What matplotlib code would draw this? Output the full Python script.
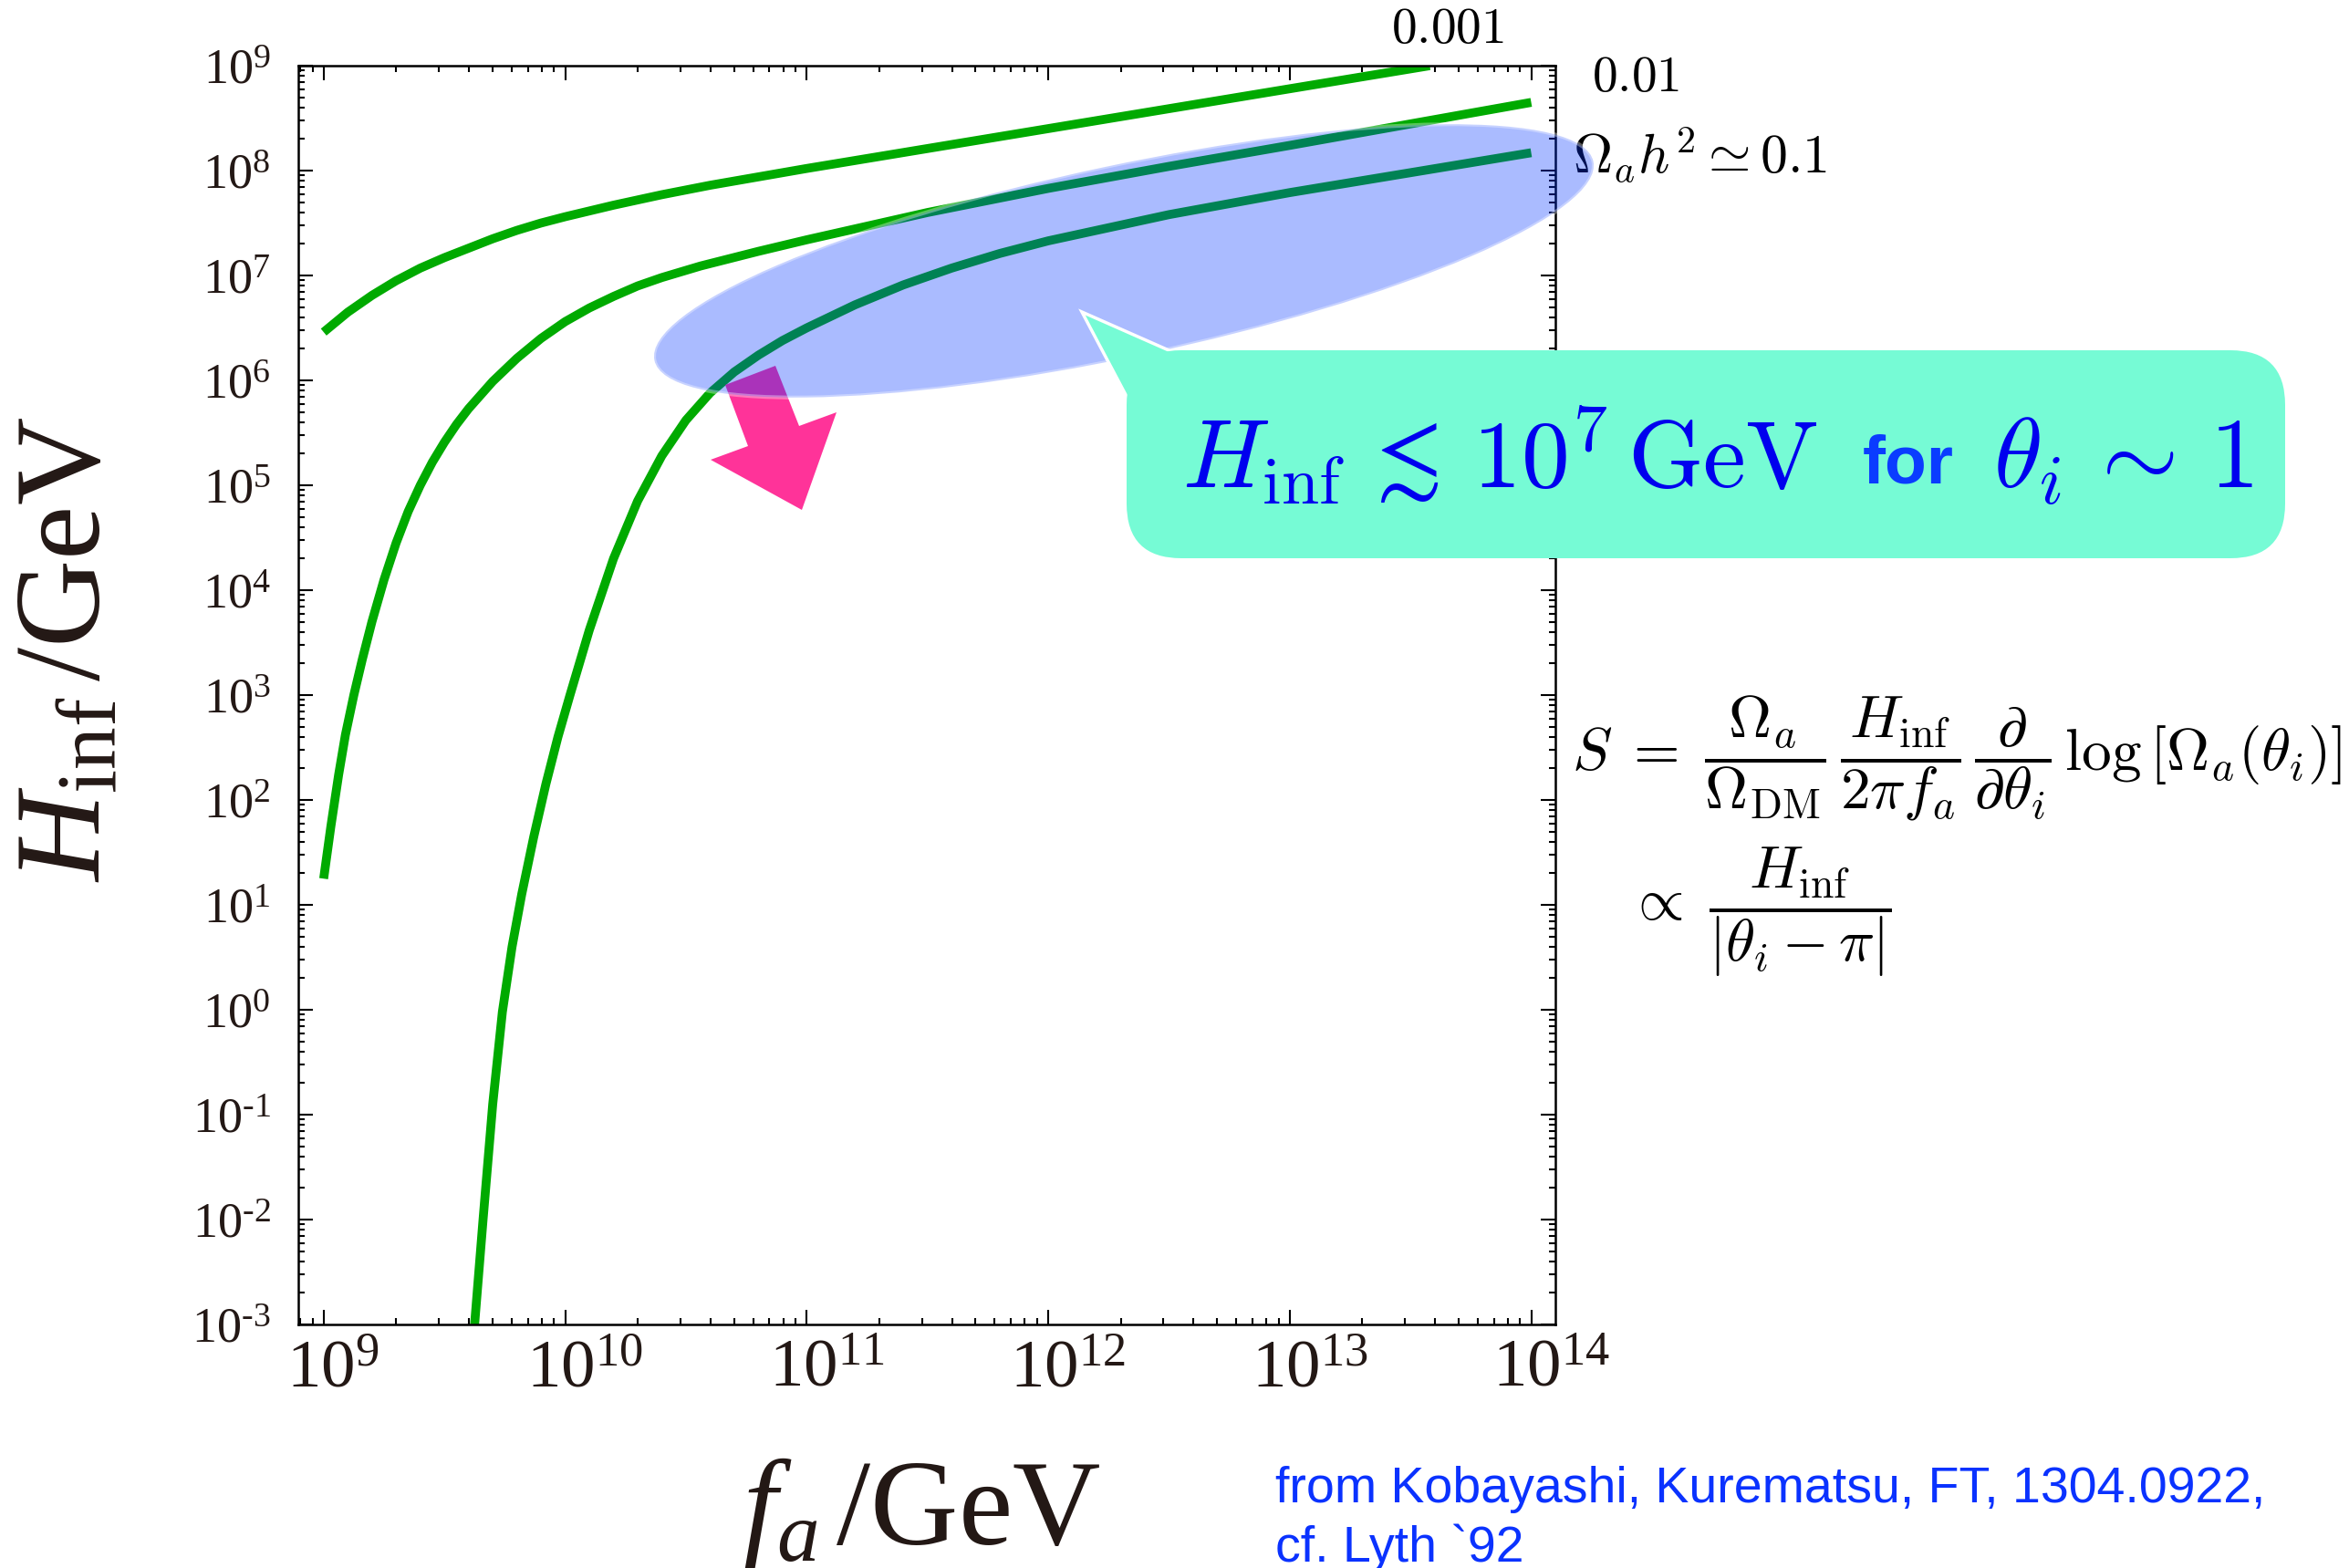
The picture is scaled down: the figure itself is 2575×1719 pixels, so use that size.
import numpy as np
import matplotlib
matplotlib.use("Agg")
import matplotlib.pyplot as plt
from matplotlib.patches import Ellipse, Polygon, FancyBboxPatch
from matplotlib.ticker import LogLocator, FuncFormatter, NullFormatter
from matplotlib.transforms import ScaledTranslation

plt.rcParams['font.family'] = 'Liberation Serif'
plt.rcParams['mathtext.fontset'] = 'custom'
plt.rcParams['mathtext.rm'] = 'Liberation Serif'
plt.rcParams['mathtext.it'] = 'Liberation Serif:italic'
plt.rcParams['mathtext.bf'] = 'Liberation Serif:bold'

# isocurvature bounds: log10(f_a/GeV) vs log10(H_inf/GeV)
logf_0001 = [9.0, 9.1, 9.2, 9.3, 9.4, 9.5, 9.6, 9.7, 9.8, 9.9, 10.0, 10.2, 10.4,
             10.6, 10.8, 11.0, 11.5, 12.0, 12.5, 13.0, 13.58]
logH_0001 = [6.46, 6.65, 6.81, 6.95, 7.07, 7.17, 7.26, 7.35, 7.43, 7.50, 7.56, 7.67,
             7.77, 7.86, 7.94, 8.02, 8.21, 8.40, 8.59, 8.78, 9.0]

logf_001 = [9.0, 9.03, 9.062, 9.09, 9.125, 9.16, 9.2, 9.25, 9.3, 9.35, 9.4, 9.45,
            9.5, 9.55, 9.6, 9.7, 9.8, 9.9, 10.0, 10.1, 10.2, 10.3, 10.4, 10.56,
            10.8, 11.0, 11.5, 12.0, 12.5, 13.0, 13.5, 14.0]
logH_001 = [1.25, 1.75, 2.24, 2.62, 3.0, 3.34, 3.70, 4.10, 4.45, 4.75, 5.0, 5.22,
            5.41, 5.58, 5.73, 5.99, 6.21, 6.40, 6.56, 6.69, 6.80, 6.90, 6.98, 7.09,
            7.23, 7.34, 7.60, 7.83, 8.04, 8.24, 8.445, 8.65]

logf_01 = [9.625, 9.66, 9.70, 9.74, 9.78, 9.82, 9.87, 9.92, 9.97, 10.02, 10.1,
           10.2, 10.3, 10.4, 10.5, 10.6, 10.7, 10.8, 10.9, 11.0, 11.2, 11.4, 11.6,
           11.8, 12.0, 12.5, 13.0, 13.5, 14.0]
logH_01 = [-3.0, -2.0, -0.9, -0.02, 0.6, 1.1, 1.65, 2.15, 2.6, 3.0, 3.62,
           4.3, 4.85, 5.28, 5.62, 5.88, 6.08, 6.24, 6.38, 6.5, 6.72, 6.91, 7.07,
           7.21, 7.33, 7.58, 7.79, 7.98, 8.17]

curves = [(logf_0001, logH_0001), (logf_001, logH_001), (logf_01, logH_01)]

W, H = 2575, 1719
fig = plt.figure(figsize=(W / 100, H / 100), dpi=100)
ax = fig.add_axes([327 / W, 1 - 1452 / H, (1705 - 327) / W, (1452 - 72) / H])

for lf, lh in curves:
    ax.plot(10 ** np.array(lf), 10 ** np.array(lh), color='#00aa00', lw=7,
            solid_capstyle='butt', solid_joinstyle='round')

ax.set_xscale('log')
ax.set_yscale('log')
ax.set_xlim(10 ** 8.895, 10 ** 14.1)
ax.set_ylim(1e-3, 1e9)


def pow_label(v, pos):
    e = int(round(np.log10(v)))
    if e < 0:
        return r'$10^{\text{-}%d}$' % -e
    return r'$10^{%d}$' % e


fmt = FuncFormatter(pow_label)
for axis in (ax.xaxis, ax.yaxis):
    axis.set_major_locator(LogLocator(base=10, numticks=30))
    axis.set_minor_locator(LogLocator(base=10, subs=np.arange(2, 10), numticks=200))
    axis.set_major_formatter(fmt)
    axis.set_minor_formatter(NullFormatter())

ax.tick_params(which='both', direction='in', top=True, right=True, width=1.5,
               labelcolor='#231815')
ax.tick_params(which='major', length=11.5)
ax.tick_params(which='minor', length=5)
ax.tick_params(axis='y', which='major', labelsize=39, pad=22)
ax.tick_params(axis='x', which='major', labelsize=54, pad=12)
for s in ax.spines.values():
    s.set_linewidth(1.8)

# center the "10" of each x label on its tick, not the whole label
for loc, tick in zip(ax.xaxis.get_majorticklocs(), ax.xaxis.get_major_ticks()):
    ndig = len(str(int(round(np.log10(loc)))))
    shift = ScaledTranslation(0.12 * ndig - 0.02, 0, fig.dpi_scale_trans)
    tick.label1.set_transform(tick.label1.get_transform() + shift)

# overlay in pixel units for the labels and annotations
ov = fig.add_axes([0, 0, 1, 1], zorder=5)
ov.set_xlim(0, W)
ov.set_ylim(H, 0)
ov.axis('off')
ov.patch.set_alpha(0)

ov.text(76, 712, r'$H_{\mathrm{inf}}\,/\mathrm{GeV}$', fontsize=96, rotation=90,
        ha='center', va='center', color='#231815')
ov.text(1010, 1693, r'$f_a\,/\mathrm{GeV}$', fontsize=96, ha='center',
        va='baseline', color='#231815')

cm = dict(math_fontfamily='cm', color='black')
ov.text(1587, 33, r'$0.001$', fontsize=40, ha='center', va='center', **cm)
ov.text(1745, 86, r'$0.01$', fontsize=40, ha='left', va='center', **cm)
ov.text(1724, 190, r'$\Omega_a h^2 \simeq 0.1$', fontsize=43, ha='left',
        va='baseline', **cm)

ov.text(1723, 831, r'$S\;=\;\dfrac{\Omega_a}{\Omega_{\mathrm{DM}}}\,\dfrac{H_{\mathrm{inf}}}{2\pi f_a}'
        r'\,\dfrac{\partial}{\partial\theta_i}\,\log\left[\Omega_a(\theta_i)\right]$',
        fontsize=47, ha='left', va='center', **cm)
ov.text(1784, 1000, r'$\propto\;\dfrac{H_{\mathrm{inf}}}{|\theta_i-\pi|}$',
        fontsize=47, ha='left', va='center', **cm)

# pink arrow, then the translucent ellipse over it
arrow = Polygon([(795, 422), (850, 401), (876, 467), (917, 452), (879, 559),
                 (779, 504), (820, 489)], closed=True, facecolor='#ff3399',
                edgecolor='none', zorder=2)
ov.add_patch(arrow)
ov.add_patch(Ellipse((1232, 286), 1052, 210, angle=-11.96,
                     facecolor=(0, 0.2, 1, 0.333), edgecolor=(1, 1, 1, 0.35),
                     lw=3, zorder=3))

# speech bubble
bubble_col = '#76fbd5'
ov.add_patch(Polygon([(1186, 342), (1251, 465), (1322, 402)], closed=True,
                     facecolor=bubble_col, edgecolor='white', lw=2.5, zorder=4))
ov.add_patch(FancyBboxPatch((1235, 384), 1270, 228,
                            boxstyle='round,pad=0,rounding_size=60',
                            facecolor=bubble_col, edgecolor='none', zorder=4))
ov.text(1296, 535, r'$H_{\mathrm{inf}}\,\lesssim\,10^7\,\mathrm{GeV}$', fontsize=76,
        ha='left', va='baseline', math_fontfamily='cm', color='#0000ee', zorder=5)
ov.text(2042, 529, 'for', fontsize=54, fontweight='bold', family='Liberation Sans',
        ha='left', va='baseline', color='#0a3cff', zorder=5)
ov.text(2185, 535, r'$\theta_i\,\sim\,1$', fontsize=78, ha='left', va='baseline',
        math_fontfamily='cm', color='#0000ee', zorder=5)

cite = dict(fontsize=40, family=['Liberation Sans Narrow', 'Liberation Sans'],
            color='#0a32ff', ha='left', va='baseline')
ov.text(1398, 1647, 'from Kobayashi, Kurematsu, FT, 1304.0922,', **cite)
ov.text(1398, 1712, 'cf. Lyth `92', **cite)

fig.savefig('out.png', dpi=100)
